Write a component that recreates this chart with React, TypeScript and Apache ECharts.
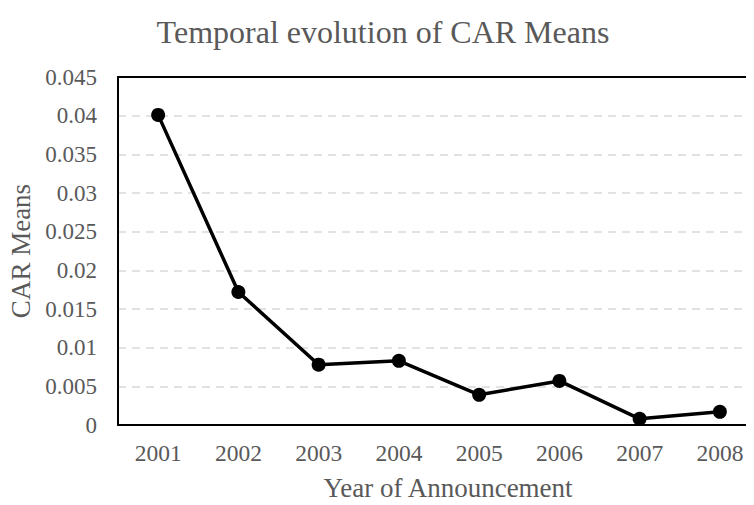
import React, { useEffect, useRef } from "react";
import * as echarts from "echarts";

const years = ["2001", "2002", "2003", "2004", "2005", "2006", "2007", "2008"];
const carMeans = [0.0401, 0.0172, 0.0078, 0.0083, 0.0039, 0.0057, 0.0008, 0.0017];

const FONT = "'Liberation Serif', 'Times New Roman', serif";
const GRAY = "#595959";

export default function App() {
  const ref = useRef<HTMLDivElement>(null);
  useEffect(() => {
    if (!ref.current) return;
    const chart = echarts.init(ref.current, null, { renderer: "svg" });
    chart.setOption({
      animation: false,
      backgroundColor: "#ffffff",
      title: {
        text: "Temporal evolution of CAR Means",
        left: 378,
        textAlign: "center",
        top: 11,
        textStyle: { fontFamily: FONT, fontSize: 32, fontWeight: "normal", color: GRAY },
      },
      grid: {
        left: 118,
        top: 77,
        width: 642,
        height: 348,
        containLabel: false,
        outerBoundsMode: "none",
      },
      xAxis: [
        {
          type: "category",
          data: years,
          boundaryGap: true,
          name: "Year of Announcement",
          nameLocation: "middle",
          nameGap: 49,
          nameTextStyle: { fontFamily: FONT, fontSize: 27, color: GRAY, padding: [0, 0, 0, 18] },
          axisLine: { lineStyle: { color: "#000", width: 2 } },
          axisTick: { show: false },
          axisLabel: { fontFamily: FONT, fontSize: 23.5, color: GRAY, margin: 16 },
          z: 5,
        },
        {
          type: "category",
          data: years,
          position: "top",
          boundaryGap: true,
          axisLine: { show: true, lineStyle: { color: "#000", width: 2 } },
          axisTick: { show: false },
          axisLabel: { show: false },
          z: 5,
        },
      ],
      yAxis: {
        type: "value",
        min: 0,
        max: 0.045,
        interval: 0.005,
        name: "CAR Means",
        nameLocation: "middle",
        nameGap: 82,
        nameTextStyle: { fontFamily: FONT, fontSize: 27, color: GRAY },
        axisLine: { show: true, lineStyle: { color: "#000", width: 2 } },
        axisTick: { show: false },
        axisLabel: {
          fontFamily: FONT,
          fontSize: 23,
          color: GRAY,
          margin: 21,
          formatter: (v: number) => String(parseFloat(v.toFixed(3))),
        },
        splitLine: { lineStyle: { color: "#d9d9d9", type: [8, 6], width: 1.5 } },
      },
      series: [
        {
          type: "line",
          data: carMeans,
          symbol: "circle",
          symbolSize: 14,
          lineStyle: { color: "#000", width: 3.5 },
          itemStyle: { color: "#000" },
          z: 10,
        },
      ],
    });
    return () => chart.dispose();
  }, []);
  return <div ref={ref} style={{ width: 754, height: 505, margin: -8 }} />;
}
